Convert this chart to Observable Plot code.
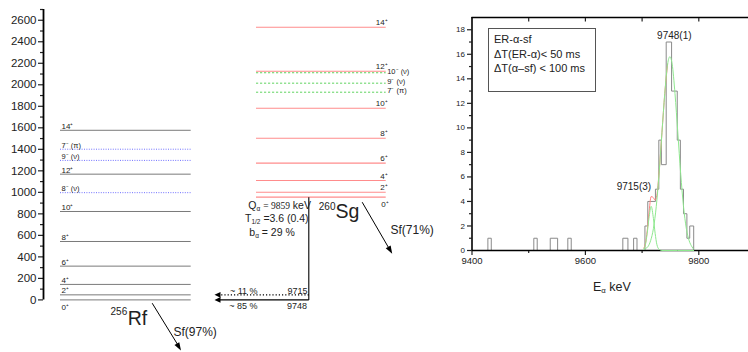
<!DOCTYPE html>
<html>
<head>
<meta charset="utf-8">
<script src="https://cdn.jsdelivr.net/npm/d3@7"></script>
<script src="https://cdn.jsdelivr.net/npm/@observablehq/plot@0.6"></script>
<style>
html,body{margin:0;padding:0;background:#fff;}
#wrap{position:relative;width:748px;height:352px;overflow:hidden;font-family:Arial,"Liberation Sans",sans-serif;color:#222;}
#wrap > svg{position:absolute;top:0;}
.ov{position:absolute;white-space:nowrap;line-height:1;color:#222;}
.ov sub{font-size:62%;vertical-align:-0.28em;line-height:0;}
</style>
</head>
<body>
<div id="wrap"></div>
<script>
// ---------------- data ----------------
const levelSpins      = ["0⁺","2⁺","4⁺","6⁺","8⁺","10⁺","12⁺","14⁺"];
const rfLevelEnergies = [0, 47, 144, 314, 543, 822, 1169, 1577];      // keV, 256Rf yrast band
const rfBandLabels    = ["8⁻ (ν)", "9⁻ (ν)", "7⁻ (π)"];
const rfBandEnergies  = [997, 1297, 1401];
const sgLevelEnergies = [0, 46, 155, 316, 548, 827, 1171, 1580];      // keV, 260Sg yrast band
const sgBandLabels    = ["7⁻ (π)", "9⁻ (ν)", "10⁻ (ν)"];
const sgBandEnergies  = [976, 1060, 1157];
const alphaLines      = [9748, 9715];
const alphaBranches   = ["~ 85 %", "~ 11 %"];
const alphaFinalLevel = [0, 47];
const energyTicks     = [0,200,400,600,800,1000,1200,1400,1600,1800,2000,2200,2400,2600];
const energyMinor     = [100,300,500,700,900,1100,1300,1500,1700,1900,2100,2300,2500,2700];

// alpha spectrum (bins)
const histLo = [9428, 9509, 9538, 9569, 9666, 9685, 9705, 9710, 9723.5, 9729.5, 9734, 9742.5, 9752, 9762, 9767.5, 9773, 9779, 9784];
const histHi = [9434, 9515, 9551, 9575, 9675, 9691, 9710, 9723.5, 9729.5, 9734, 9742.5, 9752, 9762, 9767.5, 9773, 9779, 9784, 9791];
const histN  = [1, 1, 1, 1, 1, 1, 2, 4, 5, 9, 7, 17, 13, 9, 5, 3, 1, 2];
// fitted curves
const bigFitE = [9703,9710,9715,9720,9725,9730,9735,9740,9745,9749,9753,9758,9763,9768,9773,9778,9783,9788,9791];
const bigFitN = [0.1,0.3,0.8,1.8,3.6,6.3,9.6,12.8,15.2,15.8,15.2,12.8,9.6,6.3,3.6,1.8,0.8,0.3,0.1];
const smallFitE = [9703,9706,9709,9712,9716,9720,9723,9726,9730,9735,9791];
const smallFitN = [0.1,0.5,1.4,2.6,3.6,2.6,1.4,0.5,0.1,0,0];
const sumFitE = [9703,9706,9709,9712,9716,9720,9723,9726,9730,9735,9740,9745];
const sumFitN = [0.2,0.6,1.6,3.0,4.4,4.3,4.1,4.5,6.4,9.6,12.8,15.2];
const peakLabels = ["9748(1)", "9715(3)"];
const peakEnergies = [9748, 9715];
const countTicks = [0,2,4,6,8,10,12,14,16,18];
const countMinor = [1,3,5,7,9,11,13,15,17];
const energyAxisTicks = [9400,9600,9800];
const energyAxisMinor = [9500,9700];
const topTicks = [9500,9600,9700,9800];

// ---------------- layout ----------------
const FONT = "Arial, 'Liberation Sans', sans-serif";
const RF_X1 = 60, RF_X2 = 190.7, SG_X1 = 256, SG_X2 = 385.7;
const SG_BASE = 955;              // where the 260Sg ground state is drawn on the energy axis
const ALPHA_X = 308.3, ARROW_TIP = 214;
const fmt = d => String(d);

function head(angleDeg, len = 6, hw = 2.6) {
  const a = angleDeg * Math.PI / 180, c = Math.cos(a), s = Math.sin(a);
  return {draw(ctx) {
    const bx = -len * c, by = -len * s;
    ctx.moveTo(0, 0);
    ctx.lineTo(bx + hw * s, by - hw * c);
    ctx.lineTo(bx - hw * s, by + hw * c);
    ctx.closePath();
  }};
}

const rf = levelSpins.map((s, i) => ({label: s, e: rfLevelEnergies[i]}));
const rfBand = rfBandLabels.map((s, i) => ({label: s, e: rfBandEnergies[i]}));
const sg = levelSpins.map((s, i) => ({label: s, e: SG_BASE + sgLevelEnergies[i]}));
const sgBand = sgBandLabels.map((s, i) => ({label: s, e: SG_BASE + sgBandEnergies[i]}));
const alpha = alphaLines.map((E, i) => ({E, branch: alphaBranches[i], lvl: alphaFinalLevel[i]}));

const left = Plot.plot({
  width: 440, height: 352,
  marginLeft: 43, marginRight: 0, marginTop: 9, marginBottom: 52.6,
  x: {domain: [43, 440], axis: null},
  y: {domain: [0, 2700], axis: null},
  style: {fontFamily: FONT, color: "#222", background: "transparent", overflow: "visible"},
  marks: [
    Plot.axisY({anchor: "left", ticks: energyTicks, tickFormat: fmt, label: null, tickSize: 5, tickPadding: 2, fontSize: 11.5, strokeWidth: 1.2}),
    Plot.axisY({anchor: "left", ticks: energyMinor, label: null, tickSize: 3, text: null, strokeWidth: 1.2}),
    Plot.ruleX([43], {y1: 0, y2: 2700, stroke: "#000", strokeWidth: 1.8}),
    // 256Rf levels
    Plot.ruleY(rf, {y: "e", x1: RF_X1, x2: RF_X2, stroke: "#7a7a7a", strokeWidth: 1}),
    Plot.ruleY(rfBand, {y: "e", x1: RF_X1, x2: RF_X2, stroke: "#7070ff", strokeWidth: 1, strokeDasharray: "1,1.4"}),
    Plot.text(rf.filter(d => d.e > 0), {x: RF_X1 + 1, y: "e", text: "label", textAnchor: "start", lineAnchor: "bottom", dy: -1.5, fontSize: 8}),
    Plot.text(rf.filter(d => d.e === 0), {x: RF_X1 + 1, y: "e", text: "label", textAnchor: "start", lineAnchor: "top", dy: 4.5, fontSize: 8}),
    Plot.text(rfBand, {x: RF_X1 + 1, y: "e", text: "label", textAnchor: "start", lineAnchor: "bottom", dy: -1.5, fontSize: 7.5}),
    // 260Sg levels
    Plot.ruleY(sg, {y: "e", x1: SG_X1, x2: SG_X2, stroke: "#ff8c8c", strokeWidth: 1.2}),
    Plot.ruleY(sgBand, {y: "e", x1: SG_X1, x2: SG_X2, stroke: "#5fd35f", strokeWidth: 1, strokeDasharray: "2.2,1.8"}),
    Plot.text(sg.filter(d => d.e > SG_BASE), {x: SG_X2 + 1.5, y: "e", text: "label", textAnchor: "end", lineAnchor: "bottom", dy: -2, fontSize: 8}),
    Plot.text(sg.filter(d => d.e === SG_BASE), {x: SG_X2 + 2.5, y: "e", text: "label", textAnchor: "end", lineAnchor: "top", dy: 4.5, fontSize: 8}),
    Plot.text(sgBand, {x: SG_X2 + 1, y: "e", text: "label", textAnchor: "start", lineAnchor: "middle", dy: -1.5, fontSize: 7.5}),
    // alpha decay
    Plot.link([0], {x1: ALPHA_X, x2: ALPHA_X, y1: SG_BASE, y2: 0, stroke: "#000", strokeWidth: 1.1}),
    Plot.link(alpha.filter((d, i) => i === 0), {x1: ALPHA_X, x2: ARROW_TIP + 3, y1: "lvl", y2: "lvl", stroke: "#000", strokeWidth: 1.1}),
    Plot.link(alpha.filter((d, i) => i === 1), {x1: ALPHA_X, x2: ARROW_TIP + 3, y1: "lvl", y2: "lvl", stroke: "#000", strokeWidth: 1.1, strokeDasharray: "1.2,2"}),
    Plot.dot(alpha, {x: ARROW_TIP, y: "lvl", symbol: head(180, 6, 2.8), r: 3, fill: "#000", stroke: "none"}),
    Plot.text(alpha.filter((d, i) => i === 1), {x: 257, y: "lvl", text: "branch", textAnchor: "end", lineAnchor: "bottom", dy: -0.5, fontSize: 9}),
    Plot.text(alpha.filter((d, i) => i === 1), {x: 307, y: "lvl", text: d => String(d.E), textAnchor: "end", lineAnchor: "bottom", dy: -0.5, fontSize: 9}),
    Plot.text(alpha.filter((d, i) => i === 0), {x: 257, y: "lvl", text: "branch", textAnchor: "end", lineAnchor: "top", dy: 3, fontSize: 9}),
    Plot.text(alpha.filter((d, i) => i === 0), {x: 306.5, y: "lvl", text: d => String(d.E), textAnchor: "end", lineAnchor: "top", dy: 3, fontSize: 9}),
    // fission arrows
    Plot.link([0], {x1: 151.7, y1: -30.7, x2: 179, y2: -443, stroke: "#000", strokeWidth: 1}),
    Plot.dot([0], {x: 180.5, y: -470, symbol: head(59, 8, 2.8), r: 3, fill: "#000", stroke: "none"}),
    Plot.link([0], {x1: 361.7, y1: SG_BASE - 46.6, x2: 390, y2: SG_BASE - 500, stroke: "#000", strokeWidth: 1}),
    Plot.dot([0], {x: 391.7, y: SG_BASE - 526, symbol: head(60, 8, 2.8), r: 3, fill: "#000", stroke: "none"}),
    Plot.text(["Sf(97%)"], {x: 173, y: -303, text: d => d, textAnchor: "start", lineAnchor: "middle", fontSize: 12}),
    Plot.text(["Sf(71%)"], {x: 390, y: SG_BASE - 310, text: d => d, textAnchor: "start", lineAnchor: "middle", fontSize: 12}),
    // nucleus names
    Plot.text(["256"], {x: 126.7, y: -114, text: d => d, textAnchor: "end", lineAnchor: "middle", fontSize: 10}),
    Plot.text(["Rf"], {x: 127.2, y: -176, text: d => d, textAnchor: "start", lineAnchor: "middle", fontSize: 19.5}),
    Plot.text(["260"], {x: 335, y: SG_BASE - 92, text: d => d, textAnchor: "end", lineAnchor: "middle", fontSize: 10}),
    Plot.text(["Sg"], {x: 335, y: SG_BASE - 140, text: d => d, textAnchor: "start", lineAnchor: "middle", fontSize: 19.5})
  ]
});
left.style.left = "0px";
document.getElementById("wrap").appendChild(left);

// ---------------- spectrum ----------------
function stepPoints(lo, hi, n) {
  const pts = [];
  for (let i = 0; i < lo.length; i++) {
    if (i === 0 || Math.abs(lo[i] - hi[i - 1]) > 0.01) pts.push({e: lo[i], n: 0});
    pts.push({e: lo[i], n: n[i]}, {e: hi[i], n: n[i]});
    if (i === lo.length - 1 || Math.abs(lo[i + 1] - hi[i]) > 0.01) pts.push({e: hi[i], n: 0});
  }
  return pts;
}
const hist = stepPoints(histLo, histHi, histN);
const big = bigFitE.map((e, i) => ({e, n: bigFitN[i]}));
const small = smallFitE.map((e, i) => ({e, n: smallFitN[i]}));
const sum = sumFitE.map((e, i) => ({e, n: sumFitN[i]}));
const peaks = peakLabels.map((t, i) => ({t, e: peakEnergies[i]}));

const right = Plot.plot({
  width: 308, height: 352,
  marginLeft: 31.5, marginRight: 0, marginTop: 17, marginBottom: 102,
  x: {domain: [9400, 9400 + 276.5 / 0.567], axis: null},
  y: {domain: [0, 19], axis: null},
  style: {fontFamily: FONT, color: "#222", background: "transparent", overflow: "visible"},
  marks: [
    Plot.line(hist, {x: "e", y: "n", stroke: "#8a8a8a", strokeWidth: 1}),
    Plot.ruleY([19], {stroke: "#000", strokeWidth: 1.3}),
    Plot.axisX({anchor: "top", ticks: topTicks, label: null, tickSize: -3.5, text: null, strokeWidth: 1.2}),
    Plot.axisX({anchor: "bottom", ticks: energyAxisTicks, tickFormat: fmt, label: null, tickSize: 5, tickPadding: 1.5, fontSize: 9.5, strokeWidth: 1.2}),
    Plot.axisX({anchor: "bottom", ticks: energyAxisMinor, label: null, tickSize: 3, text: null, strokeWidth: 1.2}),
    Plot.axisY({anchor: "left", ticks: countTicks, tickFormat: fmt, label: null, tickSize: 4.5, tickPadding: 2.5, fontSize: 8, strokeWidth: 1.2}),
    Plot.axisY({anchor: "left", ticks: countMinor, label: null, tickSize: 2.5, text: null, strokeWidth: 1.2}),
    Plot.ruleX([9400], {stroke: "#000", strokeWidth: 1.6}),
    Plot.ruleY([0], {stroke: "#000", strokeWidth: 1.6}),
    Plot.line(sum, {x: "e", y: "n", stroke: "#ff8080", strokeWidth: 1, curve: "monotone-x"}),
    Plot.line(small, {x: "e", y: "n", stroke: "#8ee88e", strokeWidth: 1, curve: "monotone-x"}),
    Plot.line(big, {x: "e", y: "n", stroke: "#8ee88e", strokeWidth: 1, curve: "monotone-x"}),
    Plot.text(peaks.filter((d, i) => i === 0), {x: "e", y: 17, text: "t", textAnchor: "middle", lineAnchor: "middle", dx: 5, dy: -6.5, fontSize: 10}),
    Plot.text(peaks.filter((d, i) => i === 1), {x: "e", y: 4, text: "t", textAnchor: "end", lineAnchor: "middle", dx: 0.5, dy: -15, fontSize: 10})
  ]
});
right.style.left = "440px";
document.getElementById("wrap").appendChild(right);

// ---------------- text overlays with sub/superscripts ----------------
function ov(html, x, baseline, size, extra = "") {
  const d = document.createElement("div");
  d.className = "ov";
  d.style.left = x + "px";
  d.style.top = (baseline - 0.84 * size) + "px";
  d.style.fontSize = size + "px";
  d.style.cssText += extra;
  d.innerHTML = html;
  document.getElementById("wrap").appendChild(d);
  return d;
}
ov('Q<sub>α</sub> <span style="font-family:\'Liberation Serif\',serif;font-size:9.5px">= 9859</span> keV', 248.3, 208.5, 10.5);
ov('T<sub>1/2</sub> =3.6 (0.4)', 245, 222, 10.5);
ov('b<sub>α</sub> = 29 %', 249.3, 235.5, 10.5);
ov('E<sub>α</sub> keV', 593, 291, 12.5);
// legend box
const box = document.createElement("div");
box.style.cssText = "position:absolute;left:487.5px;top:28.3px;width:108px;height:63.5px;border:1px solid #555;box-sizing:border-box;";
document.getElementById("wrap").appendChild(box);
ov('ER-α-sf', 494, 43.3, 11);
ov('ΔT(ER-α)&lt; 50 ms', 494, 57.8, 11);
ov('ΔT(α–sf) &lt; 100 ms', 494, 72.4, 11);
</script>
</body>
</html>
